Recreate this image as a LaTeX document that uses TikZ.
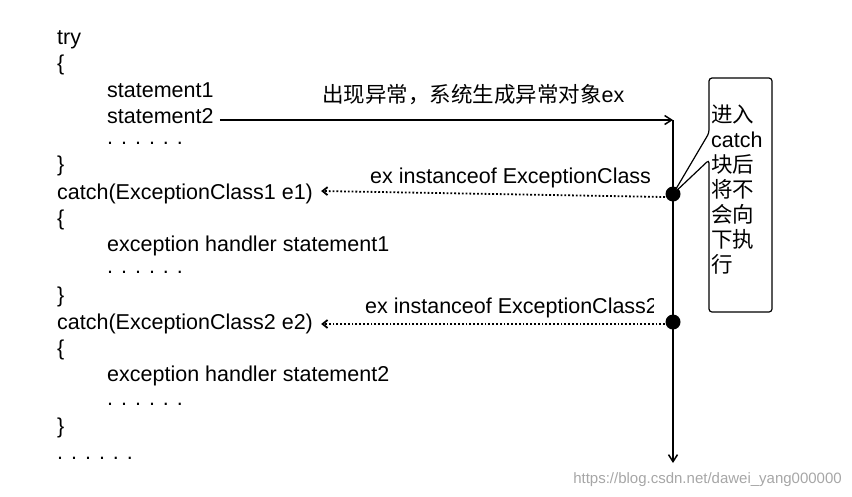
\documentclass[tikz,border=0pt]{standalone}
\usepackage{fontspec}
\setmainfont{Liberation Sans}
\newfontfamily\cjk{Noto Sans CJK SC}
\usetikzlibrary{arrows.meta}
\begin{document}
\begin{tikzpicture}[x=1pt,y=-1pt,
  code/.style={anchor=west,inner sep=0pt,font=\fontsize{21.5}{24}\selectfont},
  lbl/.style={anchor=west,inner sep=0pt,font=\fontsize{21.5}{24}\selectfont},
  dotpt/.style={circle,fill=black,inner sep=0pt,minimum size=15pt},
  flow/.style={line width=1.5pt,-{Straight Barb[length=7pt,width=9pt]}},
  test/.style={line width=1.8pt,dotted,-{Straight Barb[length=5pt,width=8pt]}}]
\useasboundingbox (0,0) rectangle (852,496);
\node[code] (t0) at (57,40) {try};
\node[code] (t1) at (57,65) {\{};
\node[code] (s1) at (107,90) {statement1};
\node[code] (s2) at (107,116) {statement2};
\node[code] (d1) at (107,143) {. . . . . .};
\node[code] (t2) at (57,166) {\}};
\node[code] (c1) at (57,194) {catch(ExceptionClass1 e1)};
\node[code] (t3) at (57,220) {\{};
\node[code] (h1) at (107,246) {exception handler statement1};
\node[code] (d2) at (107,272) {. . . . . .};
\node[code] (t4) at (57,297) {\}};
\node[code] (c2) at (57,324) {catch(ExceptionClass2 e2)};
\node[code] (t5) at (57,350) {\{};
\node[code] (h2) at (107,376) {exception handler statement2};
\node[code] (d3) at (107,404) {. . . . . .};
\node[code] (t6) at (57,428) {\}};
\node[code] (d4) at (57,458) {. . . . . .};
\coordinate (top) at (673,120);
\coordinate (bot) at (673,463);
\node[dotpt] (p1) at (673,194) {};
\node[dotpt] (p2) at (673,322) {};
\draw[flow] ([xshift=6pt]s2.east |- top) -- (top);
\draw[flow] (top) -- (bot);
\draw[test] (665,197) -- ([xshift=8pt,yshift=3pt]c1.east);
\draw[test] (665,324) -- ([xshift=8pt]c2.east);
\node[lbl] (m) at (322,95) {{\cjk 出现异常，系统生成异常对象}ex};
\node[lbl] (e1) at (370,178) {ex instanceof ExceptionClass};
\begin{scope}
\clip (355,290) rectangle (653,325);
\node[lbl] (e2) at (365,308) {ex instanceof ExceptionClass2};
\end{scope}
\draw[line width=1.2pt,rounded corners=3pt,fill=white]
  (709,78) -- (772,78) -- (772,312) -- (709,312) -- (709,160) -- (p1.center) -- (709,133) -- cycle;
\node[anchor=west,inner sep=0pt,align=left,font=\fontsize{21.5}{25}\selectfont] (box) at (711,190)
  {{\cjk 进入}\\catch\\{\cjk 块后}\\{\cjk 将不}\\{\cjk 会向}\\{\cjk 下执}\\{\cjk 行}};
\node[anchor=east,inner sep=0pt,text=black!35,font=\fontsize{15}{17}\selectfont] (wm) at (842,480) {https://blog.csdn.net/dawei\_yang000000};
\end{tikzpicture}
\end{document}
